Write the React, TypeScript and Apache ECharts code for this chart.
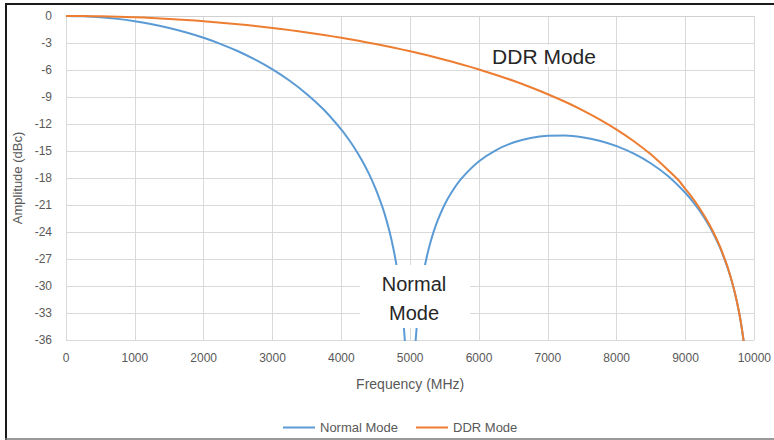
import React, { useEffect, useRef } from "react";
import * as echarts from "echarts";

const xTicks = [0, 1000, 2000, 3000, 4000, 5000, 6000, 7000, 8000, 9000, 10000];
const yTicks = [0, -3, -6, -9, -12, -15, -18, -21, -24, -27, -30, -33, -36];

const normalFreq = [
  0, 250, 500, 750, 1000, 1250, 1500, 1750, 2000, 2250, 2500, 2750, 3000, 3250, 3500, 3750,
  4000, 4100, 4200, 4300, 4400, 4500, 4600, 4650, 4700, 4750, 4800, 4850, 4875, 4900, 4925,
  4960, 5000, 5040, 5075, 5100, 5125, 5150, 5200, 5250, 5300, 5350, 5400, 5500, 5600, 5750,
  6000, 6250, 6500, 6750, 7000, 7250, 7500, 7750, 8000, 8250, 8500, 8750, 9000, 9100, 9200,
  9300, 9400, 9500, 9600, 9650, 9700, 9750, 9800, 9850,
];
const normalAmp = [
  0, -0.04, -0.14, -0.32, -0.58, -0.91, -1.33, -1.83, -2.42, -3.12, -3.92, -4.86, -5.94, -7.2,
  -8.69, -10.45, -12.62, -13.64, -14.77, -16.05, -17.51, -19.23, -21.3, -22.54, -23.95, -25.61,
  -27.63, -30.21, -31.83, -33.81, -36.35, -42, -60, -42, -36.6, -34.16, -32.26, -30.73, -28.32,
  -26.48, -24.99, -23.76, -22.7, -20.97, -19.61, -18.02, -16.14, -14.89, -14.06, -13.55, -13.3,
  -13.28, -13.46, -13.86, -14.46, -15.3, -16.39, -17.81, -19.66, -20.56, -21.58, -22.75, -24.11,
  -25.72, -27.7, -28.88, -30.25, -31.86, -33.83, -36.36,
];

const ddrFreq = [
  0, 250, 500, 750, 1000, 1250, 1500, 1750, 2000, 2250, 2500, 2750, 3000, 3250, 3500, 3750,
  4000, 4250, 4500, 4750, 5000, 5250, 5500, 5750, 6000, 6250, 6500, 6750, 7000, 7250, 7500,
  7750, 8000, 8250, 8500, 8750, 8900, 9000, 9100, 9200, 9300, 9400, 9500, 9600, 9650, 9700,
  9750, 9800, 9850,
];
const ddrAmp = [
  0, -0.01, -0.04, -0.08, -0.14, -0.22, -0.32, -0.44, -0.58, -0.74, -0.91, -1.11, -1.33, -1.57,
  -1.83, -2.11, -2.42, -2.75, -3.12, -3.5, -3.92, -4.37, -4.86, -5.38, -5.94, -6.55, -7.2,
  -7.92, -8.69, -9.53, -10.45, -11.48, -12.62, -13.91, -15.39, -17.13, -18.25, -19.23, -20.21,
  -21.3, -22.54, -23.95, -25.61, -27.63, -28.83, -30.21, -31.83, -33.81, -36.35,
];

const seriesNames = ["Normal Mode", "DDR Mode"];
const annotationDdr = "DDR Mode";
const annotationNormal = "Normal\nMode";

export default function App() {
  const ref = useRef<HTMLDivElement>(null);

  useEffect(() => {
    if (!ref.current) return;
    const chart = echarts.init(ref.current, null, { renderer: "svg" });
    const font = "Liberation Sans, Arial, sans-serif";
    const normalData = normalFreq.map((f, i) => [f, normalAmp[i]]);
    const ddrData = ddrFreq.map((f, i) => [f, ddrAmp[i]]);
    chart.setOption({
      animation: false,
      backgroundColor: "#ffffff",
      textStyle: { fontFamily: font },
      grid: { left: 66, top: 16, right: 11, bottom: 100, containLabel: false },
      xAxis: {
        type: "value",
        min: xTicks[0],
        max: xTicks[xTicks.length - 1],
        interval: 1000,
        name: "Frequency (MHz)",
        nameLocation: "middle",
        nameGap: 37,
        nameTextStyle: { color: "#595959", fontSize: 14, fontFamily: font },
        axisLine: { show: true, lineStyle: { color: "#d0d0d0", width: 1 } },
        axisTick: { show: false },
        axisLabel: {
          color: "#595959",
          fontSize: 12,
          margin: 12,
          fontFamily: font,
          formatter: (v: number) => String(v),
        },
        splitLine: { show: true, lineStyle: { color: "#d9d9d9", width: 1 } },
      },
      yAxis: {
        type: "value",
        min: yTicks[yTicks.length - 1],
        max: yTicks[0],
        interval: 3,
        name: "Amplitude (dBc)",
        nameLocation: "middle",
        nameRotate: 90,
        nameGap: 42,
        nameTextStyle: { color: "#595959", fontSize: 13, fontFamily: font },
        axisLine: { show: true, lineStyle: { color: "#d9d9d9", width: 1 } },
        axisTick: { show: false },
        axisLabel: {
          color: "#595959",
          fontSize: 12,
          margin: 14,
          fontFamily: font,
          formatter: (v: number) => String(v),
        },
        splitLine: { show: true, lineStyle: { color: "#d9d9d9", width: 1 } },
      },
      legend: {
        data: seriesNames,
        left: 278,
        top: 416,
        icon: "rect",
        itemWidth: 32,
        itemHeight: 2,
        itemGap: 18,
        textStyle: { color: "#595959", fontSize: 13, fontFamily: font },
      },
      series: [
        {
          name: seriesNames[0],
          type: "line",
          data: normalData,
          showSymbol: false,
          symbol: "none",
          smooth: 0.2,
          clip: true,
          lineStyle: { color: "#5B9BD5", width: 2 },
          itemStyle: { color: "#5B9BD5" },
          z: 2,
        },
        {
          name: seriesNames[1],
          type: "line",
          data: ddrData,
          showSymbol: false,
          symbol: "none",
          smooth: 0.2,
          clip: true,
          lineStyle: { color: "#ED7D31", width: 2 },
          itemStyle: { color: "#ED7D31" },
          z: 3,
        },
      ],
      graphic: [
        {
          type: "rect",
          shape: { x: 360, y: 265, width: 110, height: 63 },
          style: { fill: "#ffffff" },
          z: 50,
        },
        {
          type: "text",
          x: 414,
          y: 298,
          style: {
            text: annotationNormal,
            font: "20px Liberation Sans, Arial, sans-serif",
            fill: "#262626",
            align: "center",
            verticalAlign: "middle",
            lineHeight: 29,
          },
          z: 51,
        },
        {
          type: "rect",
          shape: { x: 488, y: 45, width: 112, height: 22 },
          style: { fill: "#ffffff" },
          z: 50,
        },
        {
          type: "text",
          x: 544,
          y: 56,
          style: {
            text: annotationDdr,
            font: "21px Liberation Sans, Arial, sans-serif",
            fill: "#262626",
            align: "center",
            verticalAlign: "middle",
          },
          z: 51,
        },
        {
          type: "line",
          shape: { x1: 5, y1: 4, x2: 774, y2: 4 },
          style: { stroke: "#1a1a1a", lineWidth: 2 },
          z: 60,
        },
        {
          type: "line",
          shape: { x1: 6, y1: 3, x2: 6, y2: 440 },
          style: { stroke: "#1a1a1a", lineWidth: 2 },
          z: 60,
        },
        {
          type: "line",
          shape: { x1: 5, y1: 439, x2: 774, y2: 439 },
          style: { stroke: "#777777", lineWidth: 1.5 },
          z: 60,
        },
      ],
    });
    return () => chart.dispose();
  }, []);

  return (
    <div
      ref={ref}
      style={{ position: "absolute", left: 0, top: 0, width: 774, height: 440 }}
    />
  );
}
